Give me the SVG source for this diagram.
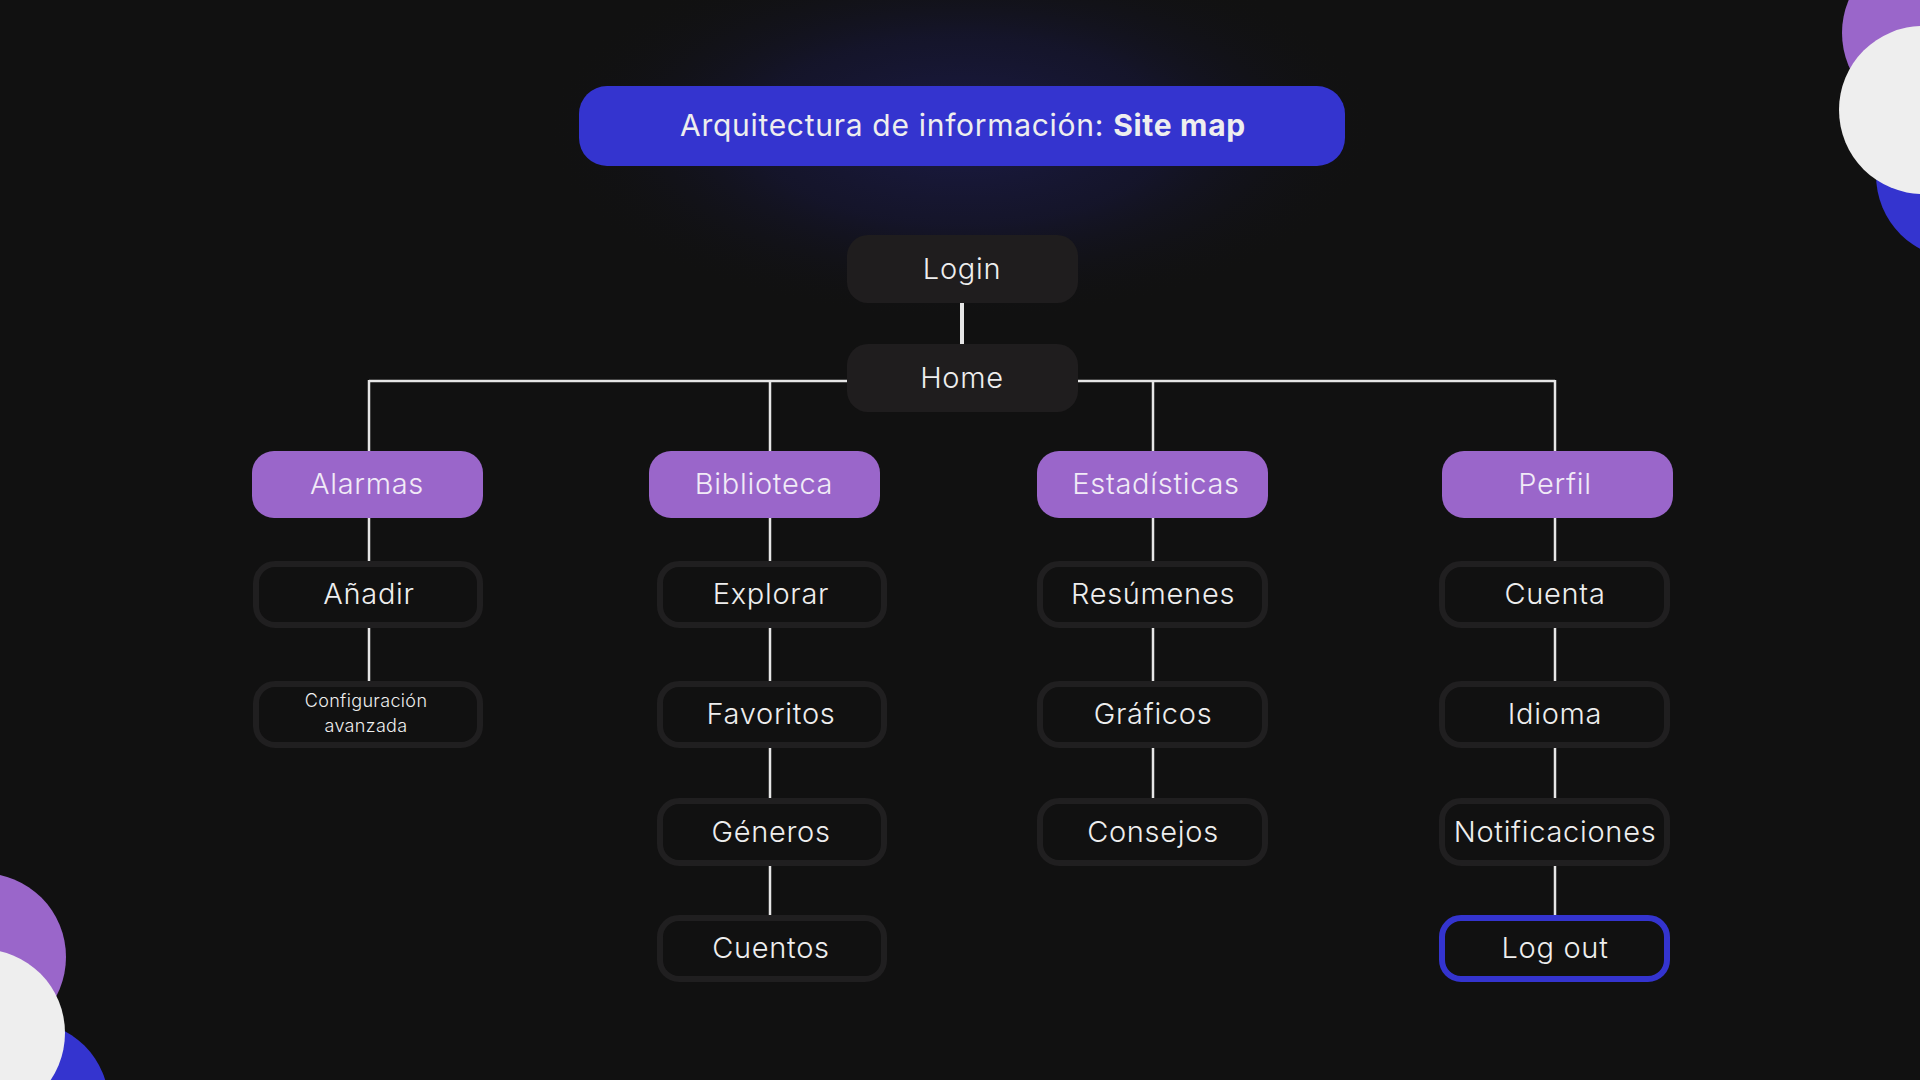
<svg xmlns="http://www.w3.org/2000/svg" width="1920" height="1080" viewBox="0 0 1920 1080">
  <defs>
    <radialGradient id="glow" cx="0.5" cy="0.5" r="0.5">
      <stop offset="0" stop-color="#1b1b45" stop-opacity="1"/>
      <stop offset="0.5" stop-color="#17173a" stop-opacity="0.6"/>
      <stop offset="1" stop-color="#111111" stop-opacity="0"/>
    </radialGradient>
  </defs>
  <style>
    text { font-family: "Inter", "Open Sans", "DejaVu Sans", sans-serif; fill: #eeeeee; text-anchor: middle; font-weight: 300; }
    .t { font-size: 29px; letter-spacing: 0.7px; }
    .small { font-size: 18px; letter-spacing: 0.35px; }
    .title { font-size: 30px; letter-spacing: 0.7px; font-weight: 400; }
    .solid { fill: #1f1d1e; }
    .cat { fill: #9a66ca; }
    .cat-text { fill: #f1ebf7; font-size: 29px; letter-spacing: 0.7px; }
    .outline { fill: #111111; stroke: #201f20; stroke-width: 6; }
    .logout { fill: #111111; stroke: #3434cf; stroke-width: 6; }
    .conn line { stroke: #e6e6e6; stroke-width: 2.5; }
    .conn .thick { stroke-width: 4; }
  </style>

  <rect x="0" y="0" width="1920" height="1080" fill="#111111"/>

  <!-- decorative corner circles -->
  <g id="deco-top-right">
    <circle cx="1926" cy="33" r="84" fill="#9a66ca"/>
    <circle cx="1960" cy="175" r="84" fill="#3434cf"/>
    <circle cx="1923" cy="110" r="84" fill="#eeeeee"/>
  </g>
  <g id="deco-bottom-left">
    <circle cx="-18" cy="957" r="84" fill="#9a66ca"/>
    <circle cx="25" cy="1105" r="84" fill="#3434cf"/>
    <circle cx="-19" cy="1033" r="84" fill="#eeeeee"/>
  </g>

  <!-- glow behind the title -->
  <ellipse cx="962" cy="130" rx="420" ry="190" fill="url(#glow)"/>

  <g id="title">
    <rect x="579" y="86" width="766" height="80" rx="28" fill="#3434cf"/>
    <text class="title" x="963" y="136">Arquitectura de información: <tspan font-weight="700">Site map</tspan></text>
  </g>

  <!-- connectors -->
  <g id="connectors" class="conn">
    <line class="thick" x1="962" y1="303" x2="962" y2="344"/>
    <line x1="369" y1="381" x2="847" y2="381"/>
    <line x1="1077" y1="381" x2="1555" y2="381"/>
    <line x1="369" y1="380" x2="369" y2="451"/>
    <line x1="770" y1="380" x2="770" y2="451"/>
    <line x1="1153" y1="380" x2="1153" y2="451"/>
    <line x1="1555" y1="380" x2="1555" y2="451"/>
    <!-- Alarmas column -->
    <line x1="369" y1="518" x2="369" y2="561"/>
    <line x1="369" y1="628" x2="369" y2="681"/>
    <!-- Biblioteca column -->
    <line x1="770" y1="518" x2="770" y2="561"/>
    <line x1="770" y1="628" x2="770" y2="681"/>
    <line x1="770" y1="748" x2="770" y2="798"/>
    <line x1="770" y1="866" x2="770" y2="915"/>
    <!-- Estadisticas column -->
    <line x1="1153" y1="518" x2="1153" y2="561"/>
    <line x1="1153" y1="628" x2="1153" y2="681"/>
    <line x1="1153" y1="748" x2="1153" y2="798"/>
    <!-- Perfil column -->
    <line x1="1555" y1="518" x2="1555" y2="561"/>
    <line x1="1555" y1="628" x2="1555" y2="681"/>
    <line x1="1555" y1="748" x2="1555" y2="798"/>
    <line x1="1555" y1="866" x2="1555" y2="915"/>
  </g>

  <g id="login">
    <rect class="solid" x="847" y="235" width="231" height="68" rx="21"/>
    <text class="t" x="962" y="279">Login</text>
  </g>
  <g id="home">
    <rect class="solid" x="847" y="344" width="231" height="68" rx="21"/>
    <text class="t" x="962" y="388">Home</text>
  </g>

  <!-- categories -->
  <g id="alarmas">
    <rect class="cat" x="252" y="451" width="231" height="67" rx="22"/>
    <text class="cat-text" x="367" y="494">Alarmas</text>
  </g>
  <g id="biblioteca">
    <rect class="cat" x="649" y="451" width="231" height="67" rx="22"/>
    <text class="cat-text" x="764" y="494">Biblioteca</text>
  </g>
  <g id="estadisticas">
    <rect class="cat" x="1037" y="451" width="231" height="67" rx="22"/>
    <text class="cat-text" x="1156" y="494">Estadísticas</text>
  </g>
  <g id="perfil">
    <rect class="cat" x="1442" y="451" width="231" height="67" rx="22"/>
    <text class="cat-text" x="1555" y="494">Perfil</text>
  </g>

  <!-- Alarmas children -->
  <g id="anadir">
    <rect class="outline" x="256" y="564" width="224" height="61" rx="19"/>
    <text class="t" x="369" y="604">Añadir</text>
  </g>
  <g id="configuracion-avanzada">
    <rect class="outline" x="256" y="684" width="224" height="61" rx="19"/>
    <text class="small" x="366" y="707">Configuración</text>
    <text class="small" x="366" y="732">avanzada</text>
  </g>

  <!-- Biblioteca children -->
  <g id="explorar">
    <rect class="outline" x="660" y="564" width="224" height="61" rx="19"/>
    <text class="t" x="771" y="604">Explorar</text>
  </g>
  <g id="favoritos">
    <rect class="outline" x="660" y="684" width="224" height="61" rx="19"/>
    <text class="t" x="771" y="724">Favoritos</text>
  </g>
  <g id="generos">
    <rect class="outline" x="660" y="801" width="224" height="62" rx="19"/>
    <text class="t" x="771" y="842">Géneros</text>
  </g>
  <g id="cuentos">
    <rect class="outline" x="660" y="918" width="224" height="61" rx="19"/>
    <text class="t" x="771" y="958">Cuentos</text>
  </g>

  <!-- Estadisticas children -->
  <g id="resumenes">
    <rect class="outline" x="1040" y="564" width="225" height="61" rx="19"/>
    <text class="t" x="1153" y="604">Resúmenes</text>
  </g>
  <g id="graficos">
    <rect class="outline" x="1040" y="684" width="225" height="61" rx="19"/>
    <text class="t" x="1153" y="724">Gráficos</text>
  </g>
  <g id="consejos">
    <rect class="outline" x="1040" y="801" width="225" height="62" rx="19"/>
    <text class="t" x="1153" y="842">Consejos</text>
  </g>

  <!-- Perfil children -->
  <g id="cuenta">
    <rect class="outline" x="1442" y="564" width="225" height="61" rx="19"/>
    <text class="t" x="1555" y="604">Cuenta</text>
  </g>
  <g id="idioma">
    <rect class="outline" x="1442" y="684" width="225" height="61" rx="19"/>
    <text class="t" x="1555" y="724">Idioma</text>
  </g>
  <g id="notificaciones">
    <rect class="outline" x="1442" y="801" width="225" height="62" rx="19"/>
    <text class="t" x="1555" y="842">Notificaciones</text>
  </g>
  <g id="logout">
    <rect class="logout" x="1442" y="918" width="225" height="61" rx="19"/>
    <text class="t" x="1555" y="958">Log out</text>
  </g>
</svg>
